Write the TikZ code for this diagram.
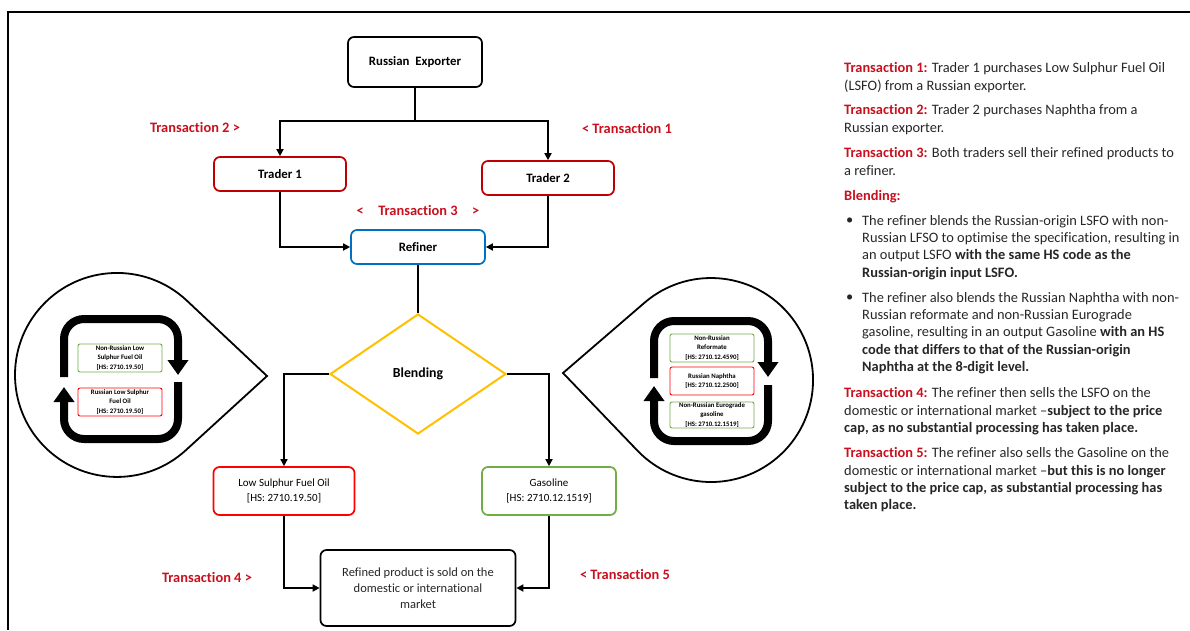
\documentclass[tikz,border=0pt]{standalone}
\usepackage{fontspec}
\setmainfont{Carlito}[Ligatures=NoCommon]
\usetikzlibrary{arrows.meta,shapes.geometric}
\definecolor{tred}{RGB}{200,16,30}
\definecolor{dred}{RGB}{192,0,0}
\definecolor{bred}{RGB}{255,0,0}
\definecolor{bblue}{RGB}{0,112,192}
\definecolor{bgreen}{RGB}{112,173,71}
\definecolor{byellow}{RGB}{255,192,0}
\definecolor{txt}{RGB}{38,38,38}
\newcommand{\tr}[1]{\textcolor{tred}{\textbf{#1}}}
\begin{document}
\begin{tikzpicture}[x=1pt,y=-1pt,
 box/.style={draw,rounded corners=6pt,line width=1.7pt,align=center,inner sep=0pt,font=\fontsize{12.8}{15}\selectfont\bfseries},
 arr/.style={line width=1.6pt,-{Triangle[width=7pt,length=7pt]}},
 ln/.style={line width=1.6pt},
 tlab/.style={text=tred,font=\fontsize{14.4}{16}\selectfont\bfseries,inner sep=0pt},
 loopar/.style={line width=8pt,rounded corners=20pt,-{Triangle[width=20pt,length=15pt]}},
 tear/.style={line width=1.8pt,line join=miter},
 mini/.style={draw,rounded corners=2pt,line width=0.9pt,align=center,inner sep=0pt,minimum width=84pt,minimum height=28pt,font=\fontsize{6.8}{9.5}\selectfont\bfseries},
 para/.style={anchor=north west,align=left,inner sep=0pt,text=txt,font=\fontsize{14.4}{17.3}\selectfont},
 bul/.style={anchor=west,inner sep=0pt,text=txt,font=\fontsize{14.4}{17.3}\selectfont}
]
\useasboundingbox (0,0) rectangle (1190,630);
% frame
\coordinate (fa) at (1190,12);
\coordinate (fb) at (8,12);
\coordinate (fc) at (8,630);
\draw[line width=2.5pt] (fa) -- (fb) -- (fc);

% main nodes
\node[box,minimum width=134pt,minimum height=50pt] (exp) at (415,62) {Russian\ \ Exporter};
\node[box,draw=dred,minimum width=132pt,minimum height=34pt] (t1) at (280,174) {Trader 1};
\node[box,draw=dred,minimum width=132pt,minimum height=34pt] (t2) at (548,178) {Trader 2};
\node[box,draw=bblue,minimum width=134pt,minimum height=34pt] (ref) at (418,247) {Refiner};
\node[diamond,draw=byellow,line width=2pt,minimum width=176pt,minimum height=120pt,inner sep=0pt,font=\fontsize{13.8}{15}\selectfont\bfseries] (blend) at (418,374) {Blending};
\node[box,draw=bred,minimum width=141pt,minimum height=48pt,font=\fontsize{11}{15}\selectfont] (lsfo) at (284,491) {Low Sulphur Fuel Oil\\{}[HS: 2710.19.50]};
\node[box,draw=bgreen,minimum width=134pt,minimum height=48pt,font=\fontsize{11}{15}\selectfont] (gas) at (549,491) {Gasoline\\{}[HS: 2710.12.1519]};
\node[box,minimum width=195pt,minimum height=76pt,font=\fontsize{12.5}{16}\selectfont,text=txt] (fin) at (418,588) {Refined product is sold on the\\domestic or international\\market};

% connectors
\coordinate (split) at (415,121);
\draw[ln] (exp) -- (split);
\draw[arr] (split) -| (t1);
\draw[arr] (split) -| (t2);
\draw[arr] (t1) |- (ref);
\draw[arr] (t2) |- (ref);
\draw[ln] (ref) -- (blend);
\draw[arr] (blend.west) -| (lsfo);
\draw[arr] (blend.east) -| (gas);
\draw[arr] (lsfo) |- (fin);
\draw[arr] (gas) |- (fin);

% transaction labels
\node[tlab] (l2) at (195,127) {Transaction 2 >};
\node[tlab] (l1) at (627,128) {< Transaction 1};
\node[tlab] (l3) at (418,210) {<\quad Transaction 3\quad >};
\node[tlab] (l4) at (207,577) {Transaction 4 >};
\node[tlab] (l5) at (625,574) {< Transaction 5};

% left teardrop
\draw[tear] (267,376) -- (186.3,300.1) arc[start angle=47.2,end angle=312.8,radius=102pt] -- cycle;
\draw[loopar] (64,377) -- (64,319) -- (178,319) -- (178,375);
\draw[loopar] (178,382) -- (178,439) -- (64,439) -- (64,387);
\node[mini,draw=bgreen] (g1) at (120,358) {Non-Russian Low\\Sulphur Fuel Oil\\{}[HS: 2710.19.50]};
\node[mini,draw=bred] (r1) at (120,402) {Russian Low Sulphur\\Fuel Oil\\{}[HS: 2710.19.50]};

% right teardrop
\draw[tear] (563,373) -- (644.4,302.8) arc[start angle=130.8,end angle=-136.2,radius=102pt] -- cycle;
\draw[loopar] (654,378) -- (654,321) -- (768,321) -- (768,377);
\draw[loopar] (768,385) -- (768,441) -- (654,441) -- (654,386);
\node[mini,draw=bgreen] (g2) at (712,348) {Non-Russian\\Reformate\\{}[HS: 2710.12.4590]};
\node[mini,draw=bred] (r2) at (712,381) {Russian Naphtha\\{}[HS: 2710.12.2500]};
\node[mini,draw=bgreen,minimum height=26pt] (g3) at (712,415) {Non-Russian Eurograde\\gasoline\\{}[HS: 2710.12.1519]};

% right text
\node[para] (p1) at (844,62.5) {\tr{Transaction 1:} Trader 1 purchases Low Sulphur Fuel Oil\\(LSFO) from a Russian exporter.};
\node[para] (p2) at (844,104.5) {\tr{Transaction 2:} Trader 2 purchases Naphtha from a\\Russian exporter.};
\node[para] (p3) at (844,147.5) {\tr{Transaction 3:} Both traders sell their refined products to\\a refiner.};
\node[para] (p4) at (844,190) {\tr{Blending:}};
\node[bul] (b1) at (846,221) {•};
\node[para] (p5) at (862,215) {The refiner blends the Russian-origin LSFO with non-\\Russian LFSO to optimise the specification, resulting in\\an output LSFO \textbf{with the same HS code as the}\\\textbf{Russian-origin input LSFO.}};
\node[bul] (b2) at (846,298) {•};
\node[para] (p6) at (862,292) {The refiner also blends the Russian Naphtha with non-\\Russian reformate and non-Russian Eurograde\\gasoline, resulting in an output Gasoline \textbf{with an HS}\\\textbf{code that differs to that of the Russian-origin}\\\textbf{Naphtha at the 8-digit level.}};
\node[para] (p7) at (844,387.5) {\tr{Transaction 4:} The refiner then sells the LSFO on the\\domestic or international market –\textbf{subject to the price}\\\textbf{cap, as no substantial processing has taken place.}};
\node[para] (p8) at (844,447.5) {\tr{Transaction 5:} The refiner also sells the Gasoline on the\\domestic or international market –\textbf{but this is no longer}\\\textbf{subject to the price cap, as substantial processing has}\\\textbf{taken place.}};
\end{tikzpicture}
\end{document}
